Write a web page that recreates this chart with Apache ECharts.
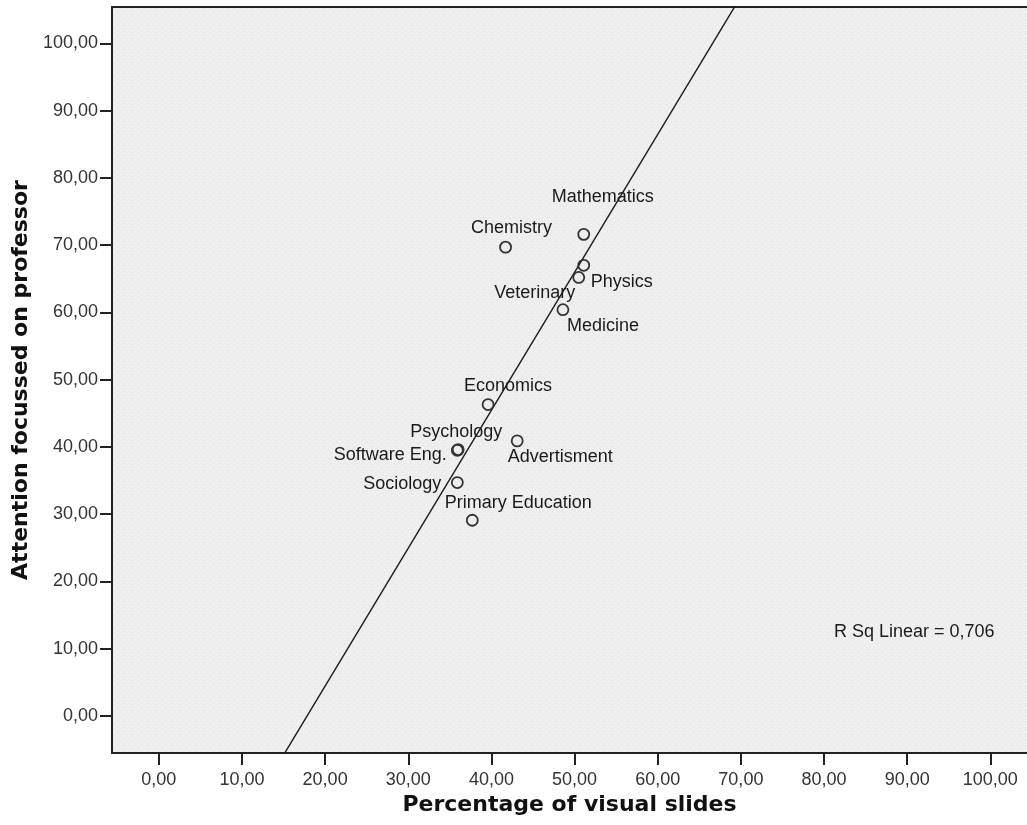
<!DOCTYPE html>
<html>
<head>
<meta charset="utf-8">
<script src="https://cdn.jsdelivr.net/npm/echarts@6/dist/echarts.min.js"></script>
<style>
  html, body { margin: 0; padding: 0; background: #ffffff; }
  #chart { width: 1027px; height: 825px; }
</style>
</head>
<body>
<div id="chart"></div>
<script>
// ---- data ----
const names = ["Mathematics", "Chemistry", "Physics", "Veterinary", "Medicine", "Economics",
               "Advertisment", "Software Eng.", "Psychology", "Sociology", "Primary Education"];
const visualSlides = [51.1, 41.7, 51.1, 50.5, 48.6, 39.6, 43.1, 35.9, 36.0, 35.9, 37.7];
const attention    = [71.6, 69.7, 67.0, 65.2, 60.4, 46.3, 40.9, 39.5, 39.6, 34.7, 29.1];
const xTicks = [0, 10, 20, 30, 40, 50, 60, 70, 80, 90, 100];
const yTicks = [0, 10, 20, 30, 40, 50, 60, 70, 80, 90, 100];
const xTitle = "Percentage of visual slides";
const yTitle = "Attention focussed on professor";
const rsqText = "R Sq Linear = 0,706";

// ---- layout (label offsets relative to each point, in pixels) ----
const labelOffsets = {
  "Mathematics": [19, -37], "Chemistry": [6, -19], "Physics": [38, 17], "Veterinary": [-44, 16],
  "Medicine": [40, 16], "Economics": [20, -19], "Advertisment": [43, 16], "Software Eng.": [-67, 5],
  "Psychology": [-2, -18], "Sociology": [-55, 1], "Primary Education": [46, -17]
};

const X_MIN = -5.63, X_MAX = 104.41, Y_MIN = -5.5, Y_MAX = 105.4;

// least-squares fit line from the data
const n = visualSlides.length;
const mx = visualSlides.reduce((a, b) => a + b, 0) / n;
const my = attention.reduce((a, b) => a + b, 0) / n;
let sxy = 0, sxx = 0;
for (let i = 0; i < n; i++) { sxy += (visualSlides[i] - mx) * (attention[i] - my); sxx += (visualSlides[i] - mx) ** 2; }
const slope = sxy / sxx, intercept = my - slope * mx;
const fitData = [[X_MIN, intercept + slope * X_MIN], [X_MAX, intercept + slope * X_MAX]];

const fmt = v => v.toFixed(2).replace('.', ',');

// dotted background pattern
const tile = document.createElement('canvas');
tile.width = 6; tile.height = 6;
const tc = tile.getContext('2d');
tc.fillStyle = '#ededed'; tc.fillRect(0, 0, 6, 6);
tc.fillStyle = '#fbfbfb'; tc.fillRect(0, 0, 1, 1); tc.fillRect(3, 3, 1, 1);

const REG = '"Liberation Sans", Arial, sans-serif';
const BOLD = '"DejaVu Sans", Verdana, sans-serif';

const points = names.map((nm, i) => ({ name: nm, value: [visualSlides[i], attention[i]] }));

const axisLineStyle = { color: '#222', width: 2 };

const chart = echarts.init(document.getElementById('chart'), null, { renderer: 'canvas' });
chart.setOption({
  animation: false,
  backgroundColor: '#ffffff',
  grid: {
    left: 112, top: 7, right: 0, bottom: 72,
    show: true,
    backgroundColor: { image: tile, repeat: 'repeat' },
    borderWidth: 0
  },
  xAxis: [
    {
      type: 'value', min: X_MIN, max: X_MAX, position: 'bottom',
      name: xTitle, nameLocation: 'middle', nameGap: 37,
      nameTextStyle: { fontFamily: BOLD, fontWeight: 'bold', fontSize: 22, color: '#111' },
      axisLine: { show: true, onZero: false, lineStyle: axisLineStyle },
      axisTick: { show: true, length: 12, inside: false, customValues: xTicks, lineStyle: axisLineStyle },
      axisLabel: { customValues: xTicks, formatter: fmt, margin: 18, fontFamily: REG, fontSize: 18, color: '#333' },
      splitLine: { show: false }
    },
    {
      type: 'value', min: X_MIN, max: X_MAX, position: 'top',
      axisLine: { show: true, onZero: false, lineStyle: axisLineStyle },
      axisTick: { show: false }, axisLabel: { show: false }, splitLine: { show: false }
    }
  ],
  yAxis: {
    type: 'value', min: Y_MIN, max: Y_MAX,
    name: yTitle, nameLocation: 'middle', nameGap: 76,
    nameTextStyle: { fontFamily: BOLD, fontWeight: 'bold', fontSize: 22, color: '#111' },
    axisLine: { show: true, onZero: false, lineStyle: axisLineStyle },
    axisTick: { show: true, length: 12, inside: false, customValues: yTicks, lineStyle: axisLineStyle },
    axisLabel: { customValues: yTicks, formatter: fmt, margin: 14, fontFamily: REG, fontSize: 18, color: '#333' },
    splitLine: { show: false }
  },
  series: [
    {
      type: 'line',
      data: fitData,
      showSymbol: false, symbol: 'none',
      clip: true,
      lineStyle: { color: '#1a1a1a', width: 1.4 },
      silent: true, z: 2
    },
    {
      type: 'scatter',
      data: points,
      symbol: 'circle', symbolSize: 11,
      itemStyle: { color: 'rgba(0,0,0,0)', borderColor: '#333', borderWidth: 1.8, opacity: 1 },
      label: {
        show: true, position: 'inside',
        formatter: p => p.name,
        fontFamily: REG, fontSize: 18, color: '#1a1a1a'
      },
      labelLayout: function (params) {
        const off = labelOffsets[names[params.dataIndex]] || [0, 0];
        return { dx: off[0], dy: off[1], hideOverlap: false };
      },
      emphasis: { disabled: true },
      silent: true, z: 3
    }
  ],
  graphic: [
    {
      type: 'text', left: 834, top: 623,
      style: { text: rsqText, font: '18px ' + REG, fill: '#1a1a1a' }
    }
  ]
});
</script>
</body>
</html>
